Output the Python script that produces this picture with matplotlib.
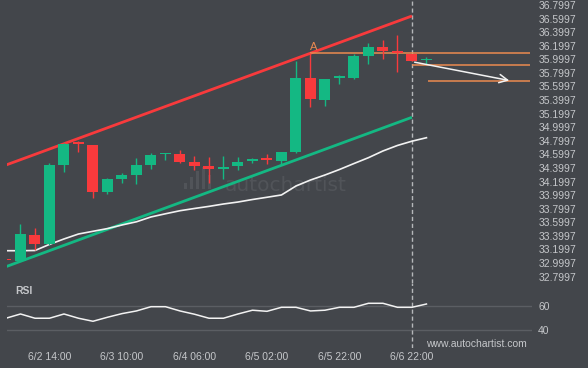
import matplotlib.pyplot as plt
import numpy as np
from matplotlib.patches import FancyBboxPatch

# Candles (4h), index 0..29
opens = [33.050, 33.030, 33.412, 33.280, 34.443, 34.765, 34.738, 34.046, 34.237, 34.296,
         34.443, 34.600, 34.605, 34.483, 34.429, 34.380, 34.433, 34.500, 34.522, 34.507,
         34.630, 35.729, 35.401, 35.725, 35.729, 36.053, 36.181, 36.122, 36.078, 35.985]
closes = [33.040, 33.427, 33.280, 34.443, 34.753, 34.755, 34.046, 34.237, 34.296, 34.443,
          34.591, 34.610, 34.492, 34.433, 34.380, 34.418, 34.487, 34.508, 34.515, 34.630,
          35.729, 35.415, 35.710, 35.732, 36.049, 36.181, 36.127, 36.093, 35.975, 35.994]
highs = [33.050, 33.574, 33.516, 34.473, 34.767, 34.797, 34.745, 34.250, 34.325, 34.546,
         34.620, 34.615, 34.664, 34.576, 34.566, 34.576, 34.557, 34.542, 34.605, 34.635,
         35.975, 36.088, 35.716, 35.769, 36.074, 36.236, 36.284, 36.358, 36.078, 36.029]
lows = [33.040, 33.030, 33.192, 33.270, 34.340, 34.635, 33.957, 34.016, 34.178, 34.164,
        34.384, 34.517, 34.468, 34.370, 34.183, 34.233, 34.370, 34.468, 34.458, 34.443,
        34.620, 35.302, 35.317, 35.632, 35.705, 35.926, 36.000, 35.817, 35.975, 35.926]
ma = [33.181, 33.181, 33.184, 33.274, 33.354, 33.427, 33.467, 33.507, 33.560, 33.607,
      33.678, 33.725, 33.770, 33.803, 33.834, 33.869, 33.898, 33.935, 33.968, 34.002,
      34.134, 34.222, 34.296, 34.377, 34.465, 34.551, 34.650, 34.731, 34.794, 34.845]
rsi = [49.9, 53.4, 49.9, 49.9, 53.4, 49.9, 47.4, 50.7, 53.7, 55.9,
       59.4, 59.4, 55.9, 53.2, 49.9, 49.9, 53.4, 56.5, 55.6, 58.9,
       58.9, 55.9, 56.5, 58.9, 58.9, 62.2, 62.2, 58.9, 58.9, 61.6]

tick_idx = [3, 8, 13, 18, 23, 28]
tick_labels = ['6/2 14:00', '6/3 10:00', '6/4 06:00', '6/5 02:00', '6/5 22:00', '6/6 22:00']

# channel (start idx 0, end idx 28)
resist = [34.443, 36.638]
support = [32.946, 35.146]
levels = [36.088, 35.916, 35.680]
level_start = [21, 28, 29.1]
arrow_from = (28, 35.965)
arrow_to = (34.9, 35.680)

bg = '#43464b'
green = '#14b883'
red = '#f83a3c'
orange = '#ec8a50'
txt = '#c5c7ca'

plt.rcParams['font.family'] = ['Liberation Sans', 'DejaVu Sans']

fig = plt.figure(figsize=(5.88, 3.68), dpi=100, facecolor=bg)
W, H = 588, 368
left, right = 7 / W, 532 / W
ax = fig.add_axes([left, 1 - 283 / H, right - left, 283 / H], facecolor=bg)
ax2 = fig.add_axes([left, 1 - 348 / H, right - left, 65 / H], facecolor=bg, sharex=ax)

# watermark
ax.text(0.415, 0.345, 'autochartist', transform=ax.transAxes, fontsize=14.5,
        color='#515459', family='DejaVu Sans', va='center', ha='left', zorder=0)
for bx, bh in zip([184, 190, 196, 202, 208], [6, 12, 18, 22, 14]):
    ax.add_patch(FancyBboxPatch(((bx - 7) / 525, (283 - 189) / 283), 3 / 525, bh / 283,
                                boxstyle='round,pad=0', transform=ax.transAxes,
                                color='#515459', lw=0, zorder=0))

for i in range(len(opens)):
    up = closes[i] >= opens[i]
    c = green if up else red
    ax.vlines(i, lows[i], highs[i], color=c, lw=1, zorder=3)
    bot = min(opens[i], closes[i])
    h = max(abs(closes[i] - opens[i]), 0.025)
    ax.bar(i, h, bottom=bot, width=0.76, color=c, lw=0, zorder=3)

ax.plot([0, 28], resist, color=red, lw=2, zorder=2, solid_capstyle='butt')
ax.plot([0, 28], support, color=green, lw=2, zorder=2, solid_capstyle='butt')
ax.plot(range(len(ma)), ma, color='#f2f2f2', lw=1.2, zorder=2)

for lv, st in zip(levels, level_start):
    ax.hlines(lv, st, 36.14, color=orange, lw=1.1, zorder=2)
ax.text(21.2, 36.174, 'A', color=orange, fontsize=8, ha='center', va='center')
ax.annotate('', xy=arrow_to, xytext=arrow_from,
            arrowprops=dict(arrowstyle='->,head_length=0.6,head_width=0.3',
                            color='#f2f2f2', lw=1.1))

ax.set_xlim(0.07, 36.28)
ax.set_ylim(36.7997 - 278 / 67.9, 36.7997 + 5 / 67.9)
yt = np.round(np.arange(32.7997, 36.80, 0.2), 4)
ax.set_yticks(yt)
ax.set_yticklabels([f'{v:.4f}' for v in yt])
ax.yaxis.tick_right()
ax.tick_params(axis='y', length=0, pad=4.5, labelsize=7.5, labelcolor=txt)
ax.tick_params(axis='x', length=0, labelbottom=False)

ax2.plot(range(len(rsi)), rsi, color='#f2f2f2', lw=1.1, zorder=3)
for g in [60, 40]:
    ax2.axhline(g, color='#5b5e63', lw=1, zorder=1)
ax2.set_ylim(25.4, 78.9)
ax2.set_yticks([60, 40])
ax2.yaxis.tick_right()
ax2.tick_params(axis='y', length=0, pad=4.5, labelsize=7.5, labelcolor=txt)
ax2.set_xticks(tick_idx)
ax2.set_xticklabels(tick_labels)
ax2.tick_params(axis='x', length=0, pad=3, labelsize=7.5, labelcolor=txt)
ax2.text(0.015, 0.88, 'RSI', transform=ax2.transAxes, fontsize=7.5, color=txt,
         fontweight='bold', va='center', ha='left')
ax2.text(0.99, 0.06, 'www.autochartist.com', transform=ax2.transAxes, fontsize=7.5,
         color=txt, ha='right', va='center')

for a in (ax, ax2):
    a.axvline(28, color='#b5b7ba', lw=1, ls=(0, (3, 2)), zorder=1)
    for s in a.spines.values():
        s.set_visible(False)

fig.savefig('out.png', dpi=100, facecolor=bg)
